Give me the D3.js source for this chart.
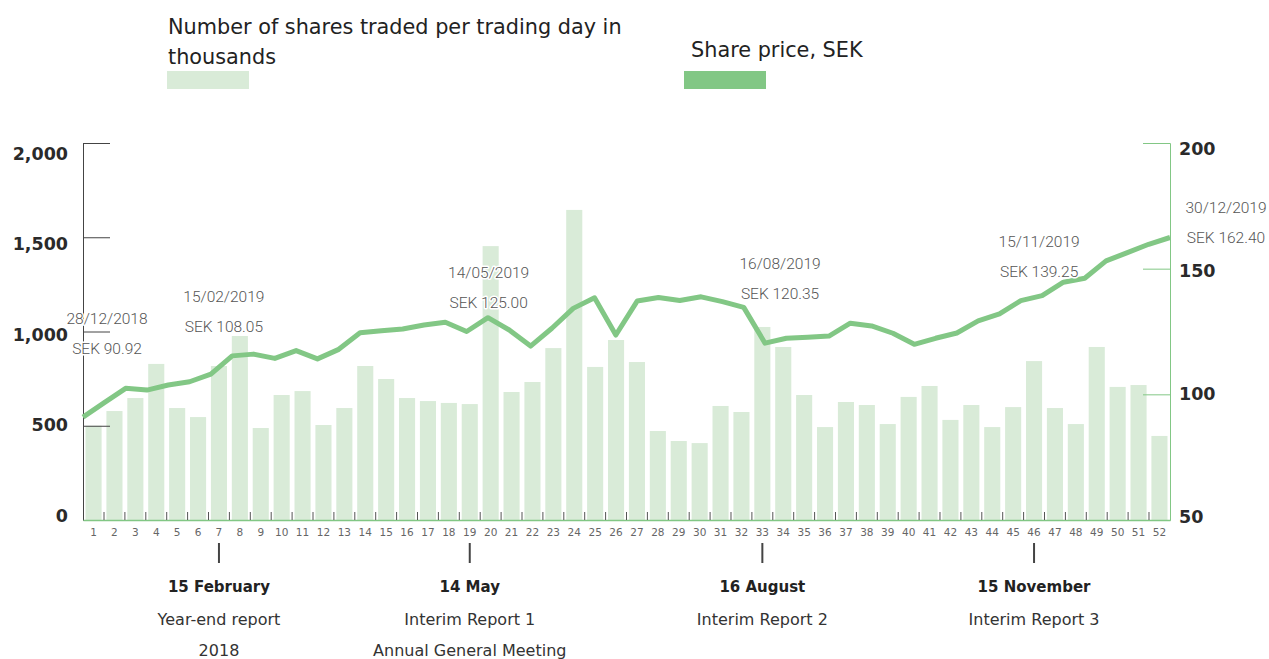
<!DOCTYPE html>
<html>
<head>
<meta charset="utf-8">
<script src="https://cdn.jsdelivr.net/npm/d3@7"></script>
<style>
  body { margin: 0; background: #fff; }
  svg { display: block; font-family: "DejaVu Sans", sans-serif; }
  .note { font-family: Roboto, sans-serif; font-weight: 300; font-size: 15.5px; fill: #555;
          paint-order: stroke; stroke: #fff; stroke-width: 3px; stroke-linejoin: round; }
  .wk text { font-family: "DejaVu Sans", sans-serif; font-size: 10.5px; fill: #666; }
  .yax text { font-family: "DejaVu Sans", sans-serif; font-size: 17.5px; font-weight: bold; fill: #2a2a2a; }
</style>
</head>
<body>
<svg width="1269" height="659"></svg>
<script>
'use strict';

// weekly volume, thousands of shares per trading day
const weeks = d3.range(1, 53);
const volume = [
  500, 578, 647, 828, 594, 546, 817, 976, 488, 663,
  684, 504, 594, 817, 748, 647, 631, 621, 615, 1453,
  679, 732, 912, 1645, 812, 955, 838, 472, 419, 408,
  605, 573, 1024, 918, 663, 493, 626, 610, 509, 653,
  711, 531, 610, 493, 599, 843, 594, 509, 918, 706,
  716, 446
];
// share price at week end, SEK (first point 28/12/2018)
const price = [
  90.92, 96.7, 102.4, 101.7, 103.7, 105.0, 108.05, 115.3, 116.0, 114.3,
  117.4, 114.1, 117.9, 124.5, 125.3, 126.0, 127.6, 128.7, 125.00, 130.5,
  125.6, 119.2, 126.3, 134.2, 138.4, 123.6, 137.1, 138.5, 137.3, 138.8,
  136.9, 134.6, 120.35, 122.3, 122.7, 123.2, 128.3, 127.2, 124.3, 119.9,
  122.3, 124.4, 129.2, 132.0, 137.3, 139.25, 144.6, 146.2, 153.1, 156.4,
  159.7, 162.40
];
const volTicks = [0, 500, 1000, 1500, 2000];
const priceTicks = [50, 100, 150, 200];
const notes = [
  { i: 0, date: '28/12/2018', text: 'SEK 90.92' },
  { i: 6, date: '15/02/2019', text: 'SEK 108.05' },
  { i: 18, date: '14/05/2019', text: 'SEK 125.00' },
  { i: 32, date: '16/08/2019', text: 'SEK 120.35' },
  { i: 45, date: '15/11/2019', text: 'SEK 139.25' },
  { i: 51, date: '30/12/2019', text: 'SEK 162.40' }
];
const events = [
  { week: 7, title: '15 February', lines: ['Year-end report', '2018'] },
  { week: 19, title: '14 May', lines: ['Interim Report 1', 'Annual General Meeting'] },
  { week: 33, title: '16 August', lines: ['Interim Report 2'] },
  { week: 46, title: '15 November', lines: ['Interim Report 3'] }
];

const barColor = '#d9ebd8';
const lineColor = '#82c785';

const svg = d3.select('svg');
const plotLeft = 83, plotRight = 1170, plotTop = 143, plotBottom = 520;

const x = d3.scaleBand().domain(weeks).range([plotLeft, plotRight])
  .paddingInner(0.23).paddingOuter(0.12);
const xp = d3.scalePoint().domain(d3.range(price.length)).range([plotLeft, plotRight]);
const yv = d3.scaleLinear().domain([0, 2000]).range([plotBottom, plotTop]);
const yp = d3.scaleLinear().domain([50, 200]).range([plotBottom, plotTop]);
// the tick labels sit on a slightly tighter spacing than the tick lines
const yvLabel = d3.scaleLinear().domain([0, 2000]).range([516, 153.5]);
const ypLabel = d3.scaleLinear().domain([50, 200]).range([516.5, 148.5]);

// legend
const legend = svg.append('g').attr('fill', '#222').style('font-size', '20.8px');
legend.append('text').attr('x', 168).attr('y', 34).text('Number of shares traded per trading day in');
legend.append('text').attr('x', 168).attr('y', 64).text('thousands');
legend.append('rect').attr('x', 167).attr('y', 71).attr('width', 82).attr('height', 18).attr('fill', barColor);
legend.append('text').attr('x', 691).attr('y', 57).text('Share price, SEK');
legend.append('rect').attr('x', 684).attr('y', 71).attr('width', 82).attr('height', 18).attr('fill', lineColor);

// bars
svg.append('g')
  .selectAll('rect')
  .data(volume)
  .join('rect')
    .attr('x', (d, i) => x(weeks[i]))
    .attr('y', d => yv(d))
    .attr('width', x.bandwidth())
    .attr('height', d => yv(0) - yv(d))
    .attr('fill', barColor);

// left axis
const yAxisL = svg.append('g')
  .attr('class', 'yax')
  .attr('transform', `translate(${plotLeft},0)`)
  .call(d3.axisRight(yv).tickValues(volTicks).tickSize(27).tickFormat(d3.format(',')));
yAxisL.select('.domain').attr('stroke', '#444');
yAxisL.selectAll('.tick line').attr('stroke', d => d === 0 ? 'none' : '#444');
yAxisL.selectAll('.tick text')
  .attr('x', -15).attr('text-anchor', 'end')
  .attr('y', d => yvLabel(d) - yv(d));

// right axis
const yAxisR = svg.append('g')
  .attr('class', 'yax')
  .attr('transform', `translate(${plotRight},0)`)
  .call(d3.axisLeft(yp).tickValues(priceTicks).tickSize(27));
yAxisR.select('.domain').attr('stroke', lineColor);
yAxisR.selectAll('.tick line').attr('stroke', d => d === 50 ? 'none' : lineColor);
yAxisR.selectAll('.tick text')
  .attr('x', 9).attr('text-anchor', 'start')
  .attr('y', d => ypLabel(d) - yp(d));

// bottom axis with week numbers
const xAxis = svg.append('g')
  .attr('class', 'wk')
  .attr('transform', `translate(0,${plotBottom})`)
  .call(d3.axisBottom(x).tickSize(0).tickPadding(9));
xAxis.select('.domain').attr('stroke', lineColor).attr('stroke-width', 1.5);

const gap = (x.step() - x.bandwidth()) / 2;
svg.append('g')
  .selectAll('line')
  .data(weeks.slice(1))
  .join('line')
    .attr('x1', d => x(d) - gap)
    .attr('x2', d => x(d) - gap)
    .attr('y1', plotBottom - 8)
    .attr('y2', plotBottom)
    .attr('stroke', '#555');

// price line
svg.append('path')
  .datum(price)
  .attr('fill', 'none')
  .attr('stroke', lineColor)
  .attr('stroke-width', 5)
  .attr('stroke-linejoin', 'round')
  .attr('d', d3.line().x((d, i) => xp(i)).y(d => yp(d)));

// price annotations
const noteOffsets = [
  { dx: 24, dy: -93 }, { dx: 13, dy: -72 }, { dx: 22, dy: -54 },
  { dx: 15, dy: -74 }, { dx: -3, dy: -49 }, { dx: 56, dy: -25 }
];
const ng = svg.append('g');
notes.forEach((n, k) => {
  const cx = xp(n.i) + noteOffsets[k].dx;
  const cy = yp(price[n.i]) + noteOffsets[k].dy;
  ng.append('text').attr('class', 'note').attr('x', cx).attr('y', cy)
    .attr('text-anchor', 'middle').text(n.date);
  ng.append('text').attr('class', 'note').attr('x', cx).attr('y', cy + 30)
    .attr('text-anchor', 'middle').text(n.text);
});

// report events under the axis
const ev = svg.append('g')
  .selectAll('g')
  .data(events)
  .join('g')
    .attr('transform', d => `translate(${x(d.week) + x.bandwidth() / 2},0)`);
ev.append('line')
  .attr('y1', 543).attr('y2', 563)
  .attr('stroke', '#444').attr('stroke-width', 2);
ev.append('text')
  .attr('y', 592).attr('text-anchor', 'middle')
  .attr('fill', '#222').style('font-size', '15px').style('font-weight', 700)
  .text(d => d.title);
ev.each(function (d) {
  d3.select(this).selectAll('text.sub')
    .data(d.lines)
    .join('text')
      .attr('class', 'sub')
      .attr('y', (t, j) => 625 + j * 31)
      .attr('text-anchor', 'middle')
      .attr('fill', '#333').style('font-size', '16px')
      .text(t => t);
});
</script>
</body>
</html>
